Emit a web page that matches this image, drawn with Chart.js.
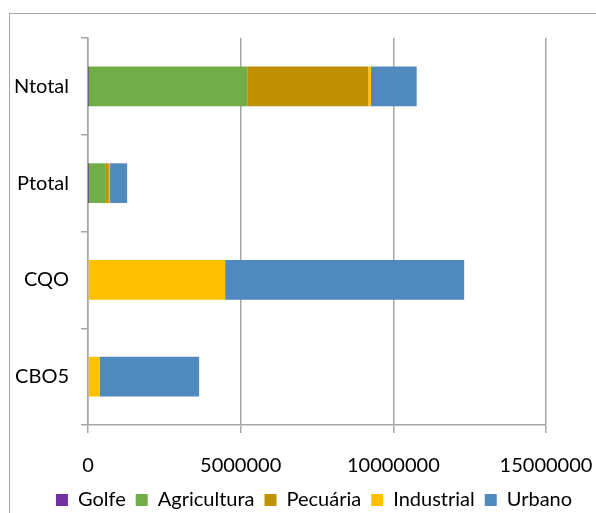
<!DOCTYPE html>
<html>
<head>
<meta charset="utf-8">
<script src="https://cdn.jsdelivr.net/npm/chart.js@4"></script>
<style>
  html, body { margin: 0; padding: 0; background: #fff; }
  #wrap { position: relative; width: 596px; height: 513px; overflow: hidden; }
  #frame { position: absolute; left: 9px; top: 13px; width: 700px; height: 600px;
           border-left: 1px solid #a6a6a6; border-top: 1px solid #a6a6a6; }
  #grafico { position: absolute; left: 0; top: 0; }
</style>
</head>
<body>
<div id="wrap">
  <div id="frame"></div>
  <canvas id="grafico" width="596" height="520"></canvas>
</div>
<script>
const categorias = ['Ntotal', 'Ptotal', 'CQO', 'CBO5'];

const golfe = [5000, 2000, 0, 0];
const agricultura = [5210000, 560000, 0, 0];
const pecuaria = [3960000, 120000, 0, 0];
const industrial = [90000, 40000, 4490000, 380000];
const urbano = [1500000, 560000, 7830000, 3260000];

const xTicks = [0, 5000000, 10000000, 15000000];

const fonte = { family: 'Lato, "Open Sans", sans-serif', size: 20 };

function serie(label, data, cor) {
  return {
    label: label,
    data: data,
    backgroundColor: cor,
    borderWidth: 0,
    categoryPercentage: 1,
    barPercentage: 0.41
  };
}

const data = {
  labels: categorias,
  datasets: [
    serie('Golfe', golfe, '#7030A0'),
    serie('Agricultura', agricultura, '#70AD47'),
    serie('Pecuária', pecuaria, '#BF9000'),
    serie('Industrial', industrial, '#FFC000'),
    serie('Urbano', urbano, '#4F89BD')
  ]
};

// empurra a legenda um pouco para a direita, como no original
const moveLegenda = {
  id: 'moveLegenda',
  afterLayout(chart) {
    chart.legend.left += 16;
    chart.legend.right += 16;
  }
};

const config = {
  type: 'bar',
  data: data,
  plugins: [moveLegenda],
  options: {
    indexAxis: 'y',
    responsive: false,
    animation: false,
    layout: { padding: { top: 38, right: 0, left: 0, bottom: 0 } },
    scales: {
      x: {
        stacked: true,
        min: 0,
        max: 15000000,
        afterBuildTicks: (scale) => { scale.ticks = xTicks.map(v => ({ value: v })); },
        afterFit: (scale) => {
          scale.height = 55;
          scale.paddingLeft = 0;
          scale.paddingRight = 50;
        },
        grid: { color: '#a6a6a6', lineWidth: 1.5, tickLength: 8 },
        border: { color: '#a6a6a6', width: 1.5 },
        ticks: {
          color: '#000', font: fonte, padding: 21, maxRotation: 0,
          callback: (v) => String(v)
        }
      },
      y: {
        stacked: true,
        afterFit: (scale) => { scale.width = 88; },
        grid: { drawOnChartArea: false, color: '#a6a6a6', lineWidth: 1.5, tickLength: 7 },
        border: { color: '#a6a6a6', width: 1.5 },
        ticks: { color: '#000', font: fonte, padding: 12 }
      }
    },
    plugins: {
      tooltip: { enabled: false },
      legend: {
        position: 'bottom',
        labels: {
          color: '#000',
          font: fonte,
          boxWidth: 12,
          boxHeight: 12,
          padding: 10
        }
      }
    }
  }
};

const barChart = new Chart(document.getElementById('grafico'), config);
</script>
</body>
</html>
